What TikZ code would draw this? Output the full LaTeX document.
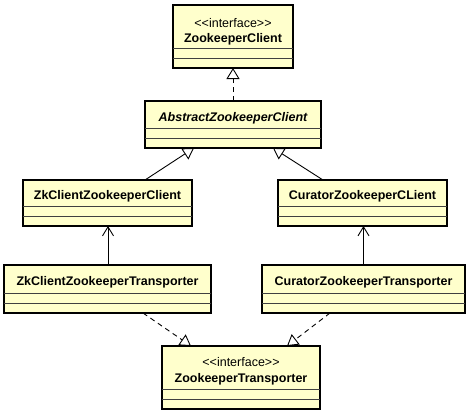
\documentclass[tikz,border=0pt]{standalone}
\usepackage{fontspec}
\setmainfont{Liberation Sans}[Ligatures=TeXOff]
\usetikzlibrary{arrows.meta}
\definecolor{clsfill}{RGB}{255,255,204}
\begin{document}
\begin{tikzpicture}[x=1pt,y=-1pt,
  cls/.style={draw=black, fill=clsfill, line width=1.8pt, rectangle, outer sep=0pt, inner sep=0pt},
  comp/.style={draw=black!75, line width=0.9pt},
  lbl/.style={font=\fontsize{12.5}{14}\selectfont\bfseries, inner sep=0pt, anchor=center},
  ster/.style={font=\fontsize{12.5}{14}\selectfont, inner sep=0pt, anchor=center},
  gen/.style={draw=black, line width=0.9pt, -{Triangle[open, length=11pt, width=13pt, line width=0.9pt]}},
  real/.style={gen, dash pattern=on 5pt off 4pt},
  assoc/.style={draw=black, line width=0.9pt, -{Straight Barb[length=9pt, width=11pt, line width=0.9pt]}}
]
\useasboundingbox (0,0) rectangle (474,415);
\fill[white] (0,0) rectangle (474,415);

% class boxes
\node[cls, minimum width=120pt, minimum height=63pt] (zc) at (233,36.5) {};
\node[cls, minimum width=176pt, minimum height=47pt] (abs) at (233,124.5) {};
\node[cls, minimum width=169pt, minimum height=46pt] (zk) at (107.5,203) {};
\node[cls, minimum width=169pt, minimum height=46pt] (cur) at (362.5,203) {};
\node[cls, minimum width=207pt, minimum height=48pt] (zkt) at (107.5,289) {};
\node[cls, minimum width=203pt, minimum height=48pt] (curt) at (363.5,289) {};
\node[cls, minimum width=158pt, minimum height=63pt] (ztp) at (241,377.5) {};

% compartments
\foreach \n in {zc,abs,zk,cur,zkt,curt,ztp}{
  \draw[comp] ([yshift=19.5pt]\n.south west) -- ([yshift=19.5pt]\n.south east);
  \draw[comp] ([yshift=10pt]\n.south west) -- ([yshift=10pt]\n.south east);
}

% labels
\node[ster] (zcs) at (233,23) {<<interface>>};
\node[lbl] (zcn) at (233,39) {ZookeeperClient};
\node[lbl, font=\fontsize{12.5}{14}\selectfont\bfseries\itshape] (absn) at (233,118) {AbstractZookeeperClient};
\node[lbl] (zkn) at (107.5,196) {ZkClientZookeeperClient};
\node[lbl] (curn) at (362.5,196) {CuratorZookeeperCLient};
\node[lbl] (zktn) at (107.5,282) {ZkClientZookeeperTransporter};
\node[lbl] (curtn) at (363.5,282) {CuratorZookeeperTransporter};
\node[ster] (ztps) at (241,362) {<<interface>>};
\node[lbl] (ztpn) at (241,379) {ZookeeperTransporter};

% connectors
\draw[real] (abs.north) -- (zc.south);
\draw[gen] ([xshift=37.5pt]zk.north) -- ([xshift=-39pt]abs.south);
\draw[gen] ([xshift=-39.5pt]cur.north) -- ([xshift=40pt]abs.south);
\draw[assoc] ([xshift=0.5pt]zkt.north) -- ([xshift=0.5pt]zk.south);
\draw[assoc] (curt.north) -- ([xshift=1pt]cur.south);
\draw[real] ([xshift=35.5pt]zkt.south) -- ([xshift=-50pt]ztp.north);
\draw[real] ([xshift=-33.5pt]curt.south) -- ([xshift=46pt]ztp.north);
\end{tikzpicture}
\end{document}
